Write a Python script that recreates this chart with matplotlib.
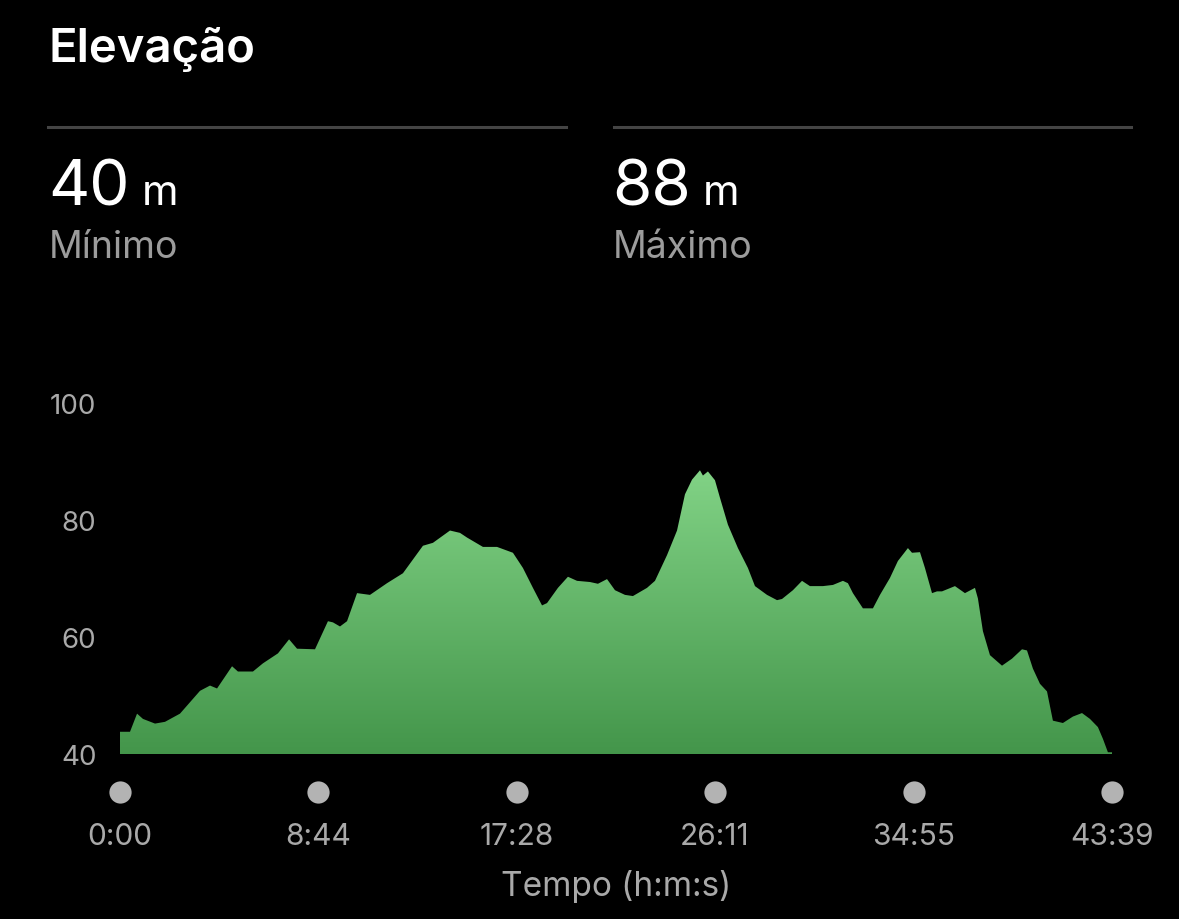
import numpy as np
import matplotlib
matplotlib.use("Agg")
import matplotlib.pyplot as plt
from matplotlib.transforms import blended_transform_factory

plt.rcParams["font.family"] = ["Inter", "DejaVu Sans"]

# perfil de elevação (tempo em minutos, elevação em metros)
tempo_min = [
    0.00, 0.44, 0.75, 1.01, 1.54, 1.98, 2.64, 3.52, 3.96, 4.27, 4.93, 5.19, 5.85,
    6.29, 6.95, 7.44, 7.79, 8.58, 9.15, 9.37, 9.68, 9.99, 10.43, 11.00, 11.75,
    12.45, 13.33, 13.77, 14.52, 14.96, 15.27, 15.97, 16.59, 17.29, 17.73, 18.17,
    18.57, 18.79, 19.27, 19.71, 20.11, 20.68, 21.03, 21.43, 21.78, 22.22, 22.57,
    23.19, 23.54, 24.07, 24.51, 24.86, 25.17, 25.52, 25.65, 25.87, 26.18, 26.40,
    26.75, 27.19, 27.63, 27.94, 28.47, 28.91, 29.13, 29.61, 30.01, 30.36, 30.93,
    31.37, 31.81, 32.03, 32.25, 32.69, 33.13, 33.44, 33.88, 34.23, 34.67, 34.85,
    35.20, 35.42, 35.73, 35.95, 36.17, 36.74, 37.18, 37.62, 37.75, 37.97, 38.28,
    38.81, 39.25, 39.69, 39.91, 40.17, 40.48, 40.79, 41.05, 41.49, 41.93, 42.33,
    42.68, 43.03, 43.25, 43.47, 43.65,
]
elevacao_m = [
    43.8, 43.8, 46.9, 46.0, 45.2, 45.5, 46.9, 50.8, 51.7, 51.2, 55.0, 54.1, 54.1,
    55.5, 57.2, 59.6, 58.0, 57.9, 62.7, 62.5, 61.8, 62.7, 67.5, 67.2, 69.2,
    70.9, 75.6, 76.1, 78.2, 77.8, 77.0, 75.4, 75.4, 74.4, 71.8, 68.4,
    65.4, 65.8, 68.4, 70.3, 69.6, 69.4, 69.1, 69.9, 68.0, 67.2, 67.0,
    68.4, 69.6, 74.0, 78.2, 84.4, 86.9, 88.5, 87.6, 88.3, 86.8, 83.8,
    79.2, 75.2, 71.8, 68.7, 67.2, 66.3, 66.5, 68.0, 69.6, 68.7, 68.7,
    68.9, 69.6, 69.2, 67.5, 64.9, 64.9, 67.2, 70.1, 73.0, 75.2, 74.4,
    74.5, 71.8, 67.5, 67.8, 67.8, 68.7, 67.5, 68.4, 66.6, 61.0, 56.9,
    55.1, 56.3, 57.9, 57.7, 54.6, 52.0, 50.7, 45.7, 45.3, 46.4, 47.0,
    46.0, 44.6, 42.6, 40.3, 40.3,
]
ticks_seg = [0, 524, 1048, 1571, 2095, 2619]
ticks_rot = ["0:00", "8:44", "17:28", "26:11", "34:55", "43:39"]
y_ticks = [40, 60, 80, 100]
minimo, maximo = 40, 88

BG = "black"
CINZA = "#a9a9a9"

W, H = 1179, 920
fig = plt.figure(figsize=(W / 100, H / 100), dpi=100, facecolor=BG)

# cabeçalho
fig.text(49 / W, 1 - 50 / H, "Elevação", color="white", fontsize=34,
         fontweight="semibold", va="center", ha="left")
for x0, x1 in ((48, 566), (614, 1131)):
    fig.add_artist(plt.Line2D([x0 / W, x1 / W], [1 - 128 / H] * 2,
                              color="#444444", lw=2.2))
for x0, val, nome in ((48, minimo, "Mínimo"), (612, maximo, "Máximo")):
    t = fig.text(x0 / W, 1 - 205 / H, f"{val}", color="white", fontsize=46,
                 va="baseline", ha="left")
    fig.canvas.draw()
    bb = t.get_window_extent()
    fig.text((bb.x1 + 12) / W, 1 - 205 / H, "m", color="white", fontsize=30,
             va="baseline", ha="left")
    fig.text((x0 + 1) / W, 1 - 258 / H, nome, color="#9c9c9c", fontsize=27,
             va="baseline", ha="left")

# área do gráfico
ax = fig.add_axes([120 / W, 1 - 755 / H, 992 / W, 351 / H], facecolor=BG)
t_seg = np.array(tempo_min) * 60
elev = np.array(elevacao_m)
ax.set_xlim(0, ticks_seg[-1])
ax.set_ylim(40, 100)

poly = ax.fill_between(t_seg, 39.5, elev, color="none", lw=0)
grad = np.linspace(0, 1, 256).reshape(-1, 1)
cmap = matplotlib.colors.LinearSegmentedColormap.from_list(
    "verde", ["#43954a", "#82d386"])
img = ax.imshow(grad, cmap=cmap, aspect="auto", origin="lower",
                extent=[0, ticks_seg[-1], 39.5, 89], zorder=1)
img.set_clip_path(poly.get_paths()[0], transform=ax.transData)

for s in ax.spines.values():
    s.set_visible(False)
ax.set_yticks(y_ticks)
ax.set_yticklabels([str(v) for v in y_ticks])
ax.tick_params(axis="y", length=0, pad=17, labelsize=20, labelcolor=CINZA)
ax.set_xticks(ticks_seg)
ax.set_xticklabels(ticks_rot)
ax.tick_params(axis="x", length=0, pad=49, labelsize=21.5, labelcolor=CINZA)

trans = blended_transform_factory(ax.transData, ax.transAxes)
ax.plot(ticks_seg, [-38 / 351] * len(ticks_seg), "o", color="#b3b3b3",
        ms=16, mec="none", transform=trans, clip_on=False)

ax.set_xlabel("Tempo (h:m:s)", color=CINZA, fontsize=24, labelpad=14)

fig.savefig("out.png", dpi=100, facecolor=BG)
